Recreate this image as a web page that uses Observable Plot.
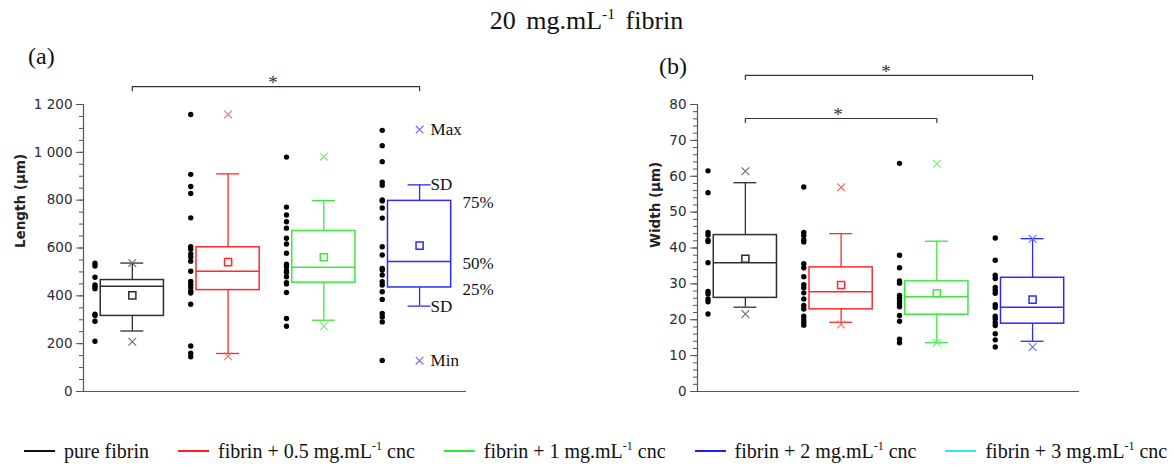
<!DOCTYPE html>
<html><head><meta charset="utf-8">
<script src="https://cdn.jsdelivr.net/npm/d3@7"></script>
<script src="https://cdn.jsdelivr.net/npm/@observablehq/plot@0.6"></script>
<style>
body{margin:0;background:#fff;}
#wrap{position:relative;width:1173px;height:465px;overflow:hidden;font-family:"Liberation Serif","Times New Roman",serif;color:#111;}
#title{position:relative;z-index:2;height:36px;line-height:42px;text-align:center;font-size:26px;word-spacing:4px;overflow:visible;}
#row{display:flex;height:364px;}
.plabel{position:absolute;font-size:24px;line-height:24px;}
#legend{display:flex;align-items:center;height:28px;margin-top:37px;padding-left:24px;font-size:20px;white-space:nowrap;}
.item{display:flex;align-items:center;margin-right:29px;}
.sw{display:block;width:31px;height:1.5px;margin-right:9px;}
sup{font-size:0.6em;vertical-align:super;line-height:0;}
</style></head>
<body>
<div id="wrap">
  <div id="title">20 mg.mL<sup>-1</sup> fibrin</div>
  <div id="row"><div id="left"></div><div id="right"></div></div>
  <div id="legend"></div>
  <div class="plabel" style="left:28px;top:44px;">(a)</div>
  <div class="plabel" style="left:659px;top:54px;">(b)</div>
</div>
<script>
// ---------- data ----------
const groups = ["pure fibrin", "fibrin + 0.5 mg.mL-1 cnc", "fibrin + 1 mg.mL-1 cnc", "fibrin + 2 mg.mL-1 cnc"];
const legendNames = ["pure fibrin", "fibrin + 0.5 mg.mL-1 cnc", "fibrin + 1 mg.mL-1 cnc", "fibrin + 2 mg.mL-1 cnc", "fibrin + 3 mg.mL-1 cnc"];
const boxColors = ["#2e2e2e", "#ff2a2a", "#3ce83c", "#2b2bff"];
const markColors = ["#6a6a6a", "#ff6a6a", "#70f070", "#6a6aff"];
const legendColors = ["#111111", "#ff2020", "#33e833", "#2020ff", "#33e8f0"];

// (a) Length (µm)
const lengthTicks = [0, 200, 400, 600, 800, 1000, 1200];
const lengthQ1 = [316, 424, 455, 435];
const lengthMedian = [440, 503, 519, 544];
const lengthQ3 = [466, 603, 671, 797];
const lengthMean = [402, 541, 561, 610];
const lengthSdLow = [253, 159, 298, 357];
const lengthSdHigh = [537, 910, 798, 864];
const lengthMin = [208, 147, 273, 129];
const lengthMax = [537, 1158, 982, 1095];
const lengthPure = [536, 525, 478, 445, 438, 430, 323, 318, 294, 210];
const length05 = [1158, 908, 857, 828, 726, 605, 595, 575, 562, 545, 503, 460, 448, 435, 420, 412, 365, 190, 160, 145];
const length1 = [980, 771, 738, 710, 683, 641, 617, 578, 532, 522, 505, 498, 480, 455, 450, 414, 305, 273];
const length2 = [1092, 1028, 961, 875, 862, 801, 797, 767, 725, 605, 571, 515, 508, 487, 459, 445, 417, 385, 326, 312, 291, 130];

// (b) Width (µm)
const widthTicks = [0, 10, 20, 30, 40, 50, 60, 70, 80];
const widthQ1 = [26.1, 22.9, 21.4, 18.9];
const widthMedian = [35.9, 27.8, 26.4, 23.5];
const widthQ3 = [43.6, 34.6, 30.7, 31.7];
const widthMean = [37.0, 29.7, 27.4, 25.6];
const widthSdLow = [23.5, 19.3, 13.6, 14.0];
const widthSdHigh = [58.2, 44.0, 41.9, 42.6];
const widthMin = [21.6, 18.7, 13.6, 12.4];
const widthMax = [61.4, 56.9, 63.5, 42.6];
const widthPure = [61.5, 55.4, 44.3, 43.6, 42.2, 41.8, 35.9, 27.9, 27.2, 25.8, 25.0, 21.6];
const width05 = [57.0, 44.3, 43.5, 42.3, 41.7, 35.6, 34.5, 32.0, 29.8, 28.9, 27.5, 25.8, 24.0, 23.0, 21.0, 20.0, 19.2, 18.5];
const width1 = [63.6, 38.0, 34.5, 30.8, 30.2, 26.8, 26.0, 25.2, 24.4, 23.6, 21.2, 19.6, 14.6, 13.6];
const width2 = [42.8, 36.6, 32.4, 31.5, 29.0, 28.2, 27.4, 24.2, 23.4, 21.0, 20.2, 19.2, 18.4, 16.1, 14.4, 12.4];

// significance brackets (group index from/to, level in data units)
const lengthBrackets = [{from: 1, to: 4, level: 1275}];
const widthBrackets = [{from: 1, to: 4, level: 88.1}, {from: 1, to: 3, level: 76.1}];

// ---------- drawing ----------
const fmt = d3.formatLocale({decimal: ".", thousands: " ", grouping: [3], currency: ["", ""]}).format(",d");
const SERIF = "Liberation Serif, Times New Roman, serif";

function panel(o) {
  const HW = 0.33, CAP = 0.12, DOT = 0.39;
  const boxes = groups.map((g, k) => ({
    i: k + 1, q1: o.q1[k], med: o.med[k], q3: o.q3[k], mean: o.mean[k],
    lo: o.lo[k], hi: o.hi[k], min: o.min[k], max: o.max[k],
    c: boxColors[k], m: markColors[k]
  }));
  const pts = o.points.flatMap((arr, k) => arr.map(v => ({i: k + 1, v})));
  const br = o.brackets.flatMap((b, j) => [
    {j, x: b.from, y: b.level - o.bt}, {j, x: b.from, y: b.level},
    {j, x: b.to, y: b.level}, {j, x: b.to, y: b.level - o.bt}
  ]);
  const marks = [
    Plot.ruleY([0], {stroke: "#555", strokeWidth: 1.2}),
    Plot.ruleX([o.xDomain[0]], {stroke: "#555", strokeWidth: 1.2}),
    Plot.axisY(o.minor, {tickSize: 4, tickFormat: () => "", label: null, stroke: "#555"}),
    Plot.axisY(o.ticks, {tickSize: 7, tickPadding: 4, tickFormat: fmt, label: null, stroke: "#555", fill: "#2a2a35", fontSize: 13.5}),
    Plot.text([o.label], {frameAnchor: "left", rotate: -90, dx: -o.labelOffset, fontWeight: "bold", fontSize: 13.5, fill: "#222"}),
    Plot.ruleX(boxes, {x: "i", y1: "q3", y2: "hi", stroke: "c", strokeWidth: 1.3}),
    Plot.ruleX(boxes, {x: "i", y1: "lo", y2: "q1", stroke: "c", strokeWidth: 1.3}),
    Plot.ruleY(boxes, {y: "hi", x1: d => d.i - CAP, x2: d => d.i + CAP, stroke: "c", strokeWidth: 1.3}),
    Plot.ruleY(boxes, {y: "lo", x1: d => d.i - CAP, x2: d => d.i + CAP, stroke: "c", strokeWidth: 1.3}),
    Plot.rect(boxes, {x1: d => d.i - HW, x2: d => d.i + HW, y1: "q1", y2: "q3", fill: "white", stroke: "c", strokeWidth: 1.5}),
    Plot.ruleY(boxes, {y: "med", x1: d => d.i - HW, x2: d => d.i + HW, stroke: "c", strokeWidth: 1.5}),
    Plot.dot(boxes, {x: "i", y: "mean", symbol: "square", r: 4, stroke: "c", fill: "white", strokeWidth: 1.5}),
    Plot.dot(boxes, {x: "i", y: "max", symbol: "times", r: 3.6, stroke: "m", strokeWidth: 1.1}),
    Plot.dot(boxes, {x: "i", y: "min", symbol: "times", r: 3.6, stroke: "m", strokeWidth: 1.1}),
    Plot.dot(pts, {x: d => d.i - DOT, y: "v", r: 2.7, fill: "#000"}),
    Plot.line(br, {x: "x", y: "y", z: "j", stroke: "#333", strokeWidth: 1.2}),
    Plot.text(o.brackets, {x: d => (d.from + d.to) / 2, y: "level", text: () => "*", fontSize: 19, fontFamily: SERIF, dy: -4, dx: -3, fill: "#333"})
  ];
  if (o.annotations) {
    marks.push(Plot.text(o.annotations.near, {x: "i", y: "v", text: "t", textAnchor: "start", dx: 11, dy: 0, fontSize: 17, fontFamily: SERIF, fill: "#111"}));
    marks.push(Plot.text(o.annotations.far, {x: "i", y: "v", text: "t", textAnchor: "start", dx: 43, dy: 2, fontSize: 17, fontFamily: SERIF, fill: "#111"}));
  }
  return Plot.plot({
    width: o.width, height: 364,
    marginTop: 68, marginBottom: 9, marginLeft: o.marginLeft, marginRight: o.marginRight,
    x: {type: "linear", domain: o.xDomain, axis: null},
    y: {type: "linear", domain: o.yDomain, axis: null},
    style: {fontFamily: "DejaVu Sans, sans-serif", fontSize: "13px", background: "transparent", overflow: "visible"},
    marks
  });
}

const k4 = 3; // index of last group (for annotations)
const left = panel({
  width: 590, marginLeft: 83, marginRight: 124,
  xDomain: [0.49, 4.49], yDomain: [0, 1200],
  ticks: lengthTicks, minor: d3.range(0, 1201, 50),
  label: "Length (µm)", labelOffset: 63,
  q1: lengthQ1, med: lengthMedian, q3: lengthQ3, mean: lengthMean,
  lo: lengthSdLow, hi: lengthSdHigh, min: lengthMin, max: lengthMax,
  points: [lengthPure, length05, length1, length2],
  brackets: lengthBrackets, bt: 17,
  annotations: {
    near: [
      {i: k4 + 1, v: lengthMax[k4], t: "Max"},
      {i: k4 + 1, v: lengthSdHigh[k4], t: "SD"},
      {i: k4 + 1, v: lengthSdLow[k4], t: "SD"},
      {i: k4 + 1, v: lengthMin[k4], t: "Min"}
    ],
    far: [
      {i: k4 + 1, v: lengthQ3[k4], t: "75%"},
      {i: k4 + 1, v: lengthMedian[k4], t: "50%"},
      {i: k4 + 1, v: lengthQ1[k4], t: "25%"}
    ]
  }
});
const right = panel({
  width: 583, marginLeft: 107, marginRight: 94,
  xDomain: [0.5, 4.49], yDomain: [0, 80],
  ticks: widthTicks, minor: d3.range(0, 81, 2),
  label: "Width (µm)", labelOffset: 42,
  q1: widthQ1, med: widthMedian, q3: widthQ3, mean: widthMean,
  lo: widthSdLow, hi: widthSdHigh, min: widthMin, max: widthMax,
  points: [widthPure, width05, width1, width2],
  brackets: widthBrackets, bt: 1.1
});
document.getElementById("left").appendChild(left);
document.getElementById("right").appendChild(right);

// legend
const lg = document.getElementById("legend");
legendNames.forEach((name, k) => {
  const item = document.createElement("div");
  item.className = "item";
  const sw = document.createElement("span");
  sw.className = "sw";
  sw.style.background = legendColors[k];
  const tx = document.createElement("span");
  tx.innerHTML = name.replace("-1", "<sup>-1</sup>");
  item.appendChild(sw); item.appendChild(tx);
  lg.appendChild(item);
});
</script>
</body></html>
